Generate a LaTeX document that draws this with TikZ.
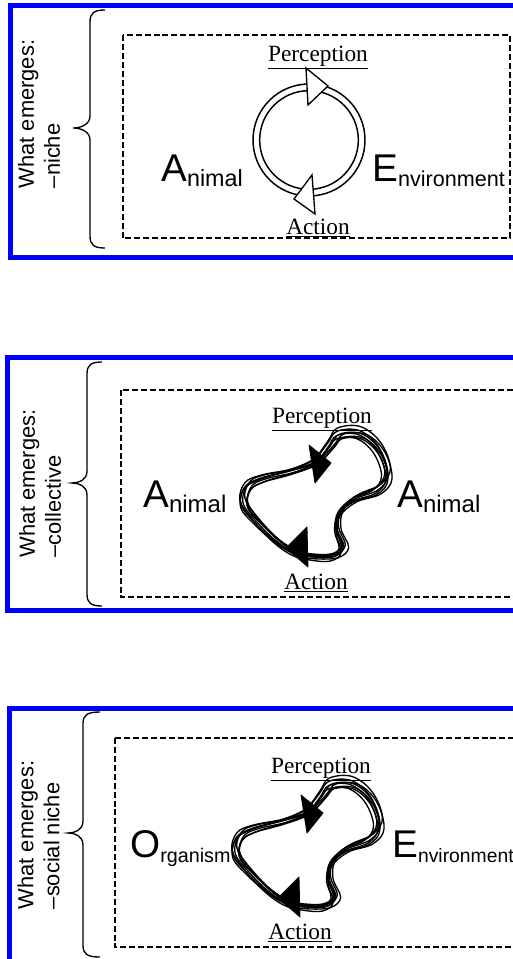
\documentclass[tikz,border=0pt]{standalone}
\usepackage{fontspec}
\setmainfont{Liberation Sans}
\newfontfamily\serifont{Liberation Serif}
\definecolor{pureblue}{RGB}{0,0,255}
\newcommand\biglab[3]{{\fontsize{29}{29}\selectfont #1}\raisebox{-3.75pt}{\fontsize{#3}{#3}\selectfont #2}}
\newcommand\curlybrace[6]{%
  \draw[bracestyle] (#1,#4) .. controls (#2+4,#4) and (#2,#4+3) .. (#2,#4+12) -- (#2,#5-12)
    .. controls (#2,#5-3) and (#3+7,#5) .. (#3,#5)
    .. controls (#3+7,#5) and (#2,#5+3) .. (#2,#5+12) -- (#2,#6-12)
    .. controls (#2,#6-3) and (#2+4,#6) .. (#1,#6);}
\begin{document}
\begin{tikzpicture}[x=0.75pt,y=-0.75pt,
  frame/.style={draw=pureblue, line width=3.75pt},
  dashbox/.style={draw, line width=0.9pt, dash pattern=on 4.5pt off 2.2pt},
  bracestyle/.style={draw, line width=1pt},
  sidelabel/.style={rotate=90, align=left, inner sep=0pt, font=\fontsize{16.4}{19.5}\selectfont},
  pa/.style={inner sep=0pt, font=\serifont\fontsize{17.5}{20}\selectfont},
  biglabel/.style={inner sep=0pt, anchor=base west},
  loopline/.style={draw, line width=1pt},
  solidhead/.style={fill=black, draw=black, line width=0.6pt, line join=round},
  openhead/.style={fill=white, draw=black, line width=1pt, line join=miter}]
\useasboundingbox (0,0) rectangle (513,959);
\clip (0,0) rectangle (513,959);
\fill[white] (0,0) rectangle (513,959);

% ---------------- panel 1 ----------------
\draw[frame] (10.5,5.5) rectangle (540,257.5);
\curlybrace{105}{90}{73}{10}{128}{248}
\node[sidelabel] (lab1) at (39,114) {What emerges:\\–niche};
\draw[dashbox] (123,35) rectangle (510,238);
\node[pa] (per1) at (318,58) {\underline{Perception}};
\node[pa] (act1) at (318,228) {\underline{Action}};
\node[biglabel] (ani1) at (161,182) {\biglab{A}{nimal}{17.5}};
\node[biglabel] (env1) at (372,182) {\biglab{E}{nvironment}{16.2}};
\coordinate (c1) at (309,140);
\draw[line width=1.1pt] (c1) circle[radius=42pt];
\draw[line width=1.1pt] (c1) circle[radius=37pt];
\draw[openhead] (306,68) -- (328,86) -- (308,105) -- cycle;
\draw[openhead] (312,175) -- (315,214) -- (294,199) -- cycle;

% ---------------- panel 2 ----------------
\draw[frame] (7.5,357.5) rectangle (540,610.5);
\curlybrace{102}{87}{72}{362}{483}{606}
\node[sidelabel] (lab2) at (40,483.5) {What emerges:\\–collective};
\draw[dashbox] (121,390) rectangle (530,597);
\node[pa] (per2) at (322,420) {\underline{Perception}};
\node[pa] (act2) at (316,583) {\underline{Action}};
\node[biglabel] (ani2) at (143,507) {\biglab{A}{nimal}{18}};
\node[biglabel] (ani3) at (397,507) {\biglab{A}{nimal}{18}};
\foreach \s/\r/\dx/\dy in {1/0/0/0, 0.96/3/1/0, 1.04/-3/0/1, 0.93/1.5/-1/1, 1.05/4/1/-1, 0.975/-4/0/0, 1.015/2/-1/-1, 0.95/-1.5/1/1}{
  \begin{scope}[scale around={\s:(318,500)}, rotate around={\r:(318,500)}, shift={(\dx,\dy)}]
    \draw[loopline] plot[smooth cycle, tension=0.6] coordinates {(340,434) (362,434) (380,450) (388,475) (378,490) (355,499) (340,513) (337,530) (343,548) (333,557) (313,557) (295,553) (275,540) (255,520) (243,503) (247,486) (262,478) (290,471) (315,462) (330,446)};
  \end{scope}}
\fill[solidhead] (309,445) -- (331,463) -- (315,483) -- cycle;
\fill[solidhead] (307,527) -- (308,567) -- (286,548) -- cycle;

% ---------------- panel 3 ----------------
\draw[frame] (9.5,708.5) rectangle (540,980);
\curlybrace{100}{83}{68}{712}{833}{957}
\node[sidelabel] (lab3) at (38.5,835) {What emerges:\\–social niche};
\draw[dashbox] (115,738) rectangle (530,947);
\node[pa] (per3) at (321,770) {\underline{Perception}};
\node[pa] (act3) at (300,933) {\underline{Action}};
\node[biglabel] (org3) at (130,857) {\biglab{O}{rganism}{14.8}};
\node[biglabel] (env3) at (392,857) {\biglab{E}{nvironment}{14.5}};
\begin{scope}[shift={(-8,350)}]
\foreach \s/\r/\dx/\dy in {1/0/0/0, 0.96/3/1/0, 1.04/-3/0/1, 0.93/1.5/-1/1, 1.05/4/1/-1, 0.975/-4/0/0, 1.015/2/-1/-1, 0.95/-1.5/1/1}{
  \begin{scope}[scale around={\s:(318,500)}, rotate around={\r:(318,500)}, shift={(\dx,\dy)}]
    \draw[loopline] plot[smooth cycle, tension=0.6] coordinates {(340,434) (362,434) (380,450) (388,475) (378,490) (355,499) (340,513) (337,530) (343,548) (333,557) (313,557) (295,553) (275,540) (255,520) (243,503) (247,486) (262,478) (290,471) (315,462) (330,446)};
  \end{scope}}
\fill[solidhead] (309,445) -- (331,463) -- (315,483) -- cycle;
\fill[solidhead] (307,527) -- (308,567) -- (286,548) -- cycle;
\end{scope}
\end{tikzpicture}
\end{document}
